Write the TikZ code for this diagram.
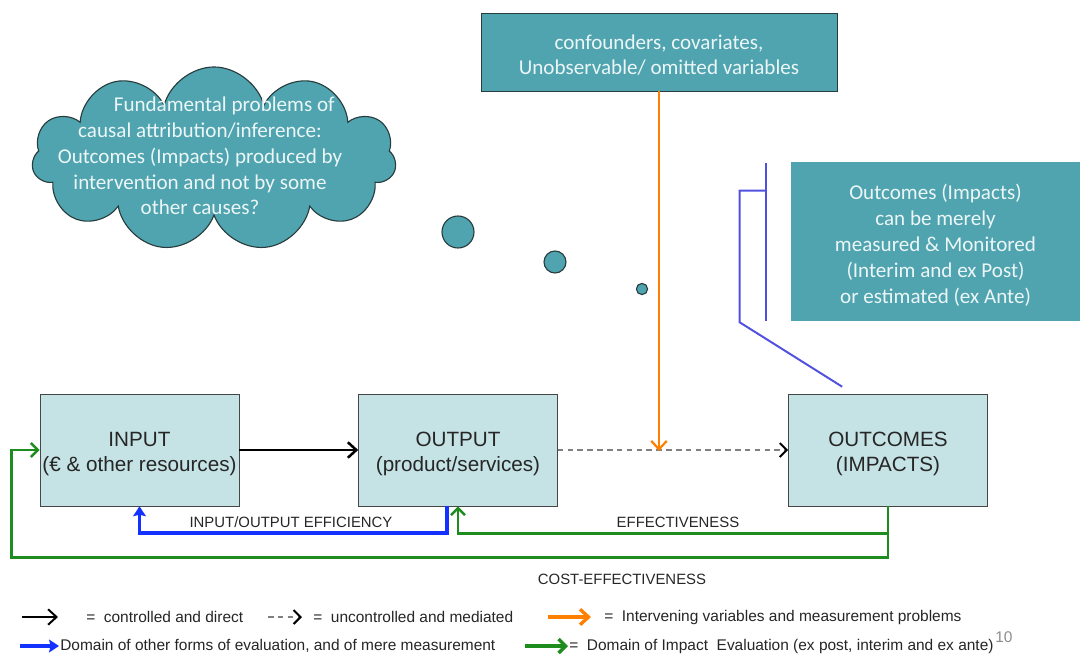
\documentclass[tikz,border=0pt]{standalone}
\usepackage{fontspec}
\setmainfont{Liberation Sans}
\newfontfamily\calloutfont{Carlito}
\usetikzlibrary{arrows.meta,shapes.symbols,calc}
\definecolor{tealfill}{RGB}{79,164,175}
\definecolor{boxfill}{RGB}{197,226,229}
\definecolor{boxline}{RGB}{70,70,70}
\definecolor{tealline}{RGB}{40,60,62}
\definecolor{calltext}{RGB}{236,246,247}
\definecolor{orangeline}{RGB}{255,127,0}
\definecolor{blueline}{RGB}{20,50,255}
\definecolor{bracketblue}{RGB}{80,80,225}
\definecolor{greenline}{RGB}{30,140,30}
\newcommand{\lift}[1]{\rule{0pt}{#1}}
\tikzstyle{stage} = [draw=boxline, fill=boxfill, minimum width=4.975cm, minimum height=2.8cm, inner sep=0pt, align=center, text=black!85, font=\fontsize{14.7}{17.6}\selectfont]
\tikzstyle{note} = [fill=tealfill, align=center, text=calltext, font=\calloutfont\fontsize{15}{17.7}\selectfont]
\tikzstyle{bubble} = [draw=tealline, fill=tealfill, circle, inner sep=0pt, line width=0.8pt]
\tikzstyle{tag} = [inner sep=0pt, text=black!85, font=\fontsize{10.6}{12}\selectfont]
\tikzstyle{key} = [inner sep=0pt, anchor=west, text=black!85, font=\fontsize{11}{12}\selectfont]
\tikzstyle{arrow} = [line width=1.8pt, -{Straight Barb[length=6pt,width=11pt]}]
\tikzstyle{mediated} = [draw=gray, line width=1pt, dash pattern=on 4pt off 3pt, -{Straight Barb[length=5pt,width=10pt,color=black,line width=1.4pt]}]
\tikzstyle{intervening} = [draw=orangeline, line width=1.6pt, -{Straight Barb[length=6pt,width=11pt]}]
\tikzstyle{efficiency} = [draw=blueline, line width=2.7pt, -{Stealth[length=7pt,width=9pt,inset=1pt]}]
\tikzstyle{impact} = [draw=greenline, line width=1.8pt, -{Straight Barb[length=5pt,width=10pt]}]
\tikzstyle{bracket} = [draw=bracketblue, line width=1.4pt]

\begin{document}
\begin{tikzpicture}[x=0.025cm, y=-0.025cm]
	\useasboundingbox (0,0) rectangle (1080,659);

	% thought cloud and its bubbles
	\node[cloud, cloud puffs=11, cloud ignores aspect, draw=tealline, fill=tealfill, line width=0.8pt, minimum width=9.1cm, minimum height=4.6cm](thought) at (214,159){};
	\node[note, fill=none, font=\calloutfont\fontsize{15}{18.4}\selectfont](problem) at (200,156){\hspace*{2.3em}Fundamental problems of\\causal attribution/inference:\\Outcomes (Impacts) produced by\\intervention and not by some\\other causes?};
	\node[bubble, minimum size=0.8cm](bubble1) at (458,232){};
	\node[bubble, minimum size=0.55cm](bubble2) at (555,262){};
	\node[bubble, minimum size=0.28cm](bubble3) at (642,289){};

	% notes
	\node[note, draw=tealline, minimum width=8.9cm, minimum height=1.95cm](confounders) at (659,52){\lift{15pt}confounders, covariates,\\Unobservable/ omitted variables};
	\node[note, minimum width=7.225cm, minimum height=3.975cm, font=\calloutfont\fontsize{15}{18.4}\selectfont](remark) at (935.5,241.5){\lift{16pt}Outcomes (Impacts)\\can be merely\\measured \& Monitored\\(Interim and ex Post)\\or estimated (ex Ante)};

	% chain
	\node[stage](input) at (139.5,450){\lift{16pt}INPUT\\(€ \& other resources)};
	\node[stage](output) at (458,450){\lift{16pt}OUTPUT\\(product/services)};
	\node[stage](outcomes) at (888,450){\lift{16pt}OUTCOMES\\(IMPACTS)};
	\coordinate (mediation) at (659,451);
	\draw[arrow](input) -- (output);
	\draw[mediated](output) -- (outcomes);
	\draw[intervening](confounders.south -| mediation) -- (mediation);

	% bracket
	\draw[bracket]($(remark.north west)+(-25,1)$) -- ($(remark.south west)+(-25,0)$);
	\draw[bracket]($(remark.north west)+(-25,29)$) -- ($(remark.north west)+(-51,29)$) -- ($(remark.south west)+(-51,1)$) -- ($(outcomes.north west)+(54,-7)$);

	% loops back
	\draw[efficiency]([xshift=-0.275cm]output.south) -- ++(0,27) -| (input.south);
	\draw[impact](outcomes.south) -- ++(0,27) -| (output.south);
	\draw[impact]($(outcomes.south)+(0,26)$) -- ++(0,25) -| ($(input.west)+(-28,0)$) -- (input.west);
	\node[tag](efficiency) at (291,522){INPUT/OUTPUT EFFICIENCY};
	\node[tag](effectiveness) at (678,522){EFFECTIVENESS};
	\node[tag](cost) at (622,579){COST-EFFECTIVENESS};

	% legend
	\node[key](direct) at (86,617){=\ \ controlled and direct};
	\node[key](uncontrolled) at (313,617){=\ \ uncontrolled and mediated};
	\node[key](problems) at (604,617){=\ \ Intervening variables and measurement problems};
	\node[key](mere) at (60,646){Domain of other forms of evaluation, and of mere measurement};
	\node[key](domain) at (569,646){=\ \ Domain of Impact\ \ Evaluation (ex post, interim and ex ante)};
	\node[key, text=black!45](slide) at (995,637){10};
	\draw[arrow, line width=1.4pt]([xshift=-1.6cm]direct.west) -- ([xshift=-0.7cm]direct.west);
	\draw[mediated]([xshift=-1.125cm]uncontrolled.west) -- ([xshift=-0.275cm]uncontrolled.west);
	\draw[intervening, line width=2.4pt]([xshift=-1.4cm]problems.west) -- ([xshift=-0.325cm]problems.west);
	\draw[efficiency]([xshift=-1cm]mere.west) -- ([xshift=-0.025cm]mere.west);
	\draw[impact, line width=2.4pt]([xshift=-1.1cm]domain.west) -- ([xshift=-0.025cm]domain.west);
\end{tikzpicture}
\end{document}
